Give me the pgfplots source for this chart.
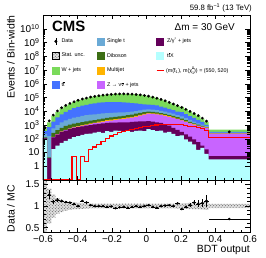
\documentclass[border=0pt]{standalone}
\usepackage{fontspec}
\setmainfont{Liberation Sans}
\usepackage{pgfplots}
\pgfplotsset{compat=1.18}
\usepackage{pgfplotstable}
\usepgfplotslibrary{fillbetween}
\usetikzlibrary{patterns}

\definecolor{cW}{RGB}{122,218,90}
\definecolor{cTT}{RGB}{68,114,255}
\definecolor{cST}{RGB}{106,170,214}
\definecolor{cVV}{RGB}{60,110,20}
\definecolor{cQCD}{RGB}{255,180,0}
\definecolor{cZnn}{RGB}{200,100,255}
\definecolor{cDY}{RGB}{100,0,90}
\definecolor{cTTX}{RGB}{180,255,255}

\newcommand{\tbar}{\rlap{\kern0.01em\rule[0.8em]{0.27em}{0.07em}}t}
\newcommand{\nubar}{\rlap{\kern0.04em\rule[0.62em]{0.42em}{0.07em}}ν}
\newcommand{\supsub}[2]{\raisebox{-0.32em}{\fontsize{3.7}{3.9}\selectfont\shortstack[l]{#1\\#2}}}

% cumulative stack tops (left bin edges), signal
\pgfplotstableread{
x t1 t2 t3 t4 t5 t6 t7 t8 sig
-0.600 100 112 112 112 126 224 355 562 0.11
-0.576 0.01 3.98 3.98 3.98 4.47 158 708 1585 0.11
-0.552 17.4 126 129 135 263 562 1778 4786 0.11
-0.528 31.6 200 204 214 417 1000 3548 9120 0.11
-0.504 50.1 316 324 339 631 1585 6026 15850 0.11
-0.480 70.8 398 417 437 851 2138 8913 24550 0.11
-0.456 100 525 550 575 1072 2754 12590 34670 0.11
-0.432 132 631 676 724 1259 3388 16600 46770 5.01
-0.408 158 708 776 832 1445 3981 20890 63100 0.11
-0.384 191 794 891 977 1622 4571 25120 69180 5.01
-0.360 224 891 1023 1122 1820 5129 29510 85110 2.29
-0.336 240 1000 1175 1318 2042 5623 33880 104700 15.8
-0.312 282 1122 1349 1514 2291 6026 38020 120200 25.1
-0.288 316 1202 1514 1738 2570 6457 41690 134900 39.8
-0.264 263 1318 1698 1950 2884 6918 43650 147900 63.1
-0.240 355 1413 1905 2239 3236 7244 45710 162200 100
-0.216 316 1479 2089 2455 3548 7586 46770 169800 158
-0.192 398 1514 2291 2692 3890 7943 46770 186200 209
-0.168 380 1549 2512 2951 4266 8128 45710 186200 282
-0.144 355 1549 2692 3162 4677 8318 44670 186200 355
-0.120 417 1585 3020 3548 5129 8710 42660 186200 427
-0.096 316 1660 3388 3981 5754 9333 39810 177800 501
-0.072 380 1738 3981 4677 6607 10230 37150 166000 575
-0.048 398 1820 4786 5495 7586 11480 33880 158500 661
-0.024 355 1862 5754 6457 8511 12880 31620 141300 741
0.000 501 1905 6607 7413 9333 13800 30900 123000 832
0.024 417 1778 6310 7079 8913 13180 29510 109600 912
0.048 355 1585 5888 6607 8128 12020 26300 93330 1000
0.072 398 1445 5370 5888 7413 10720 21880 72440 1072
0.096 282 1122 4677 5129 6457 9333 18620 57540 1122
0.120 316 891 3981 4365 5495 7943 15140 43650 1148
0.144 224 631 3311 3631 4571 6607 12300 33880 1148
0.168 158 447 2692 2951 3715 5248 9550 24550 1122
0.192 178 316 2138 2344 2884 4169 8511 20420 1047
0.216 89.1 204 1698 1862 2239 3162 6166 14130 933
0.240 63.1 141 1318 1445 1698 2399 4467 9550 832
0.264 39.8 89.1 1047 1148 1318 1778 3236 6457 741
0.288 15.8 56.2 851 912 1047 1318 2399 4571 631
0.312 22 31.6 724 776 851 1047 1660 2951 525
0.336 7.94 16.6 631 661 708 832 1023 1698 417
0.360 3.16 5.37 240 245 251 282 316 457 132
0.600 3.16 5.37 240 245 251 282 316 457 132
}\stack

\pgfplotstableread{
x y
-0.588 631
-0.564 1995
-0.540 5248
-0.516 10470
-0.492 17780
-0.468 26920
-0.444 37150
-0.420 48980
-0.396 63100
-0.372 77620
-0.348 91200
-0.324 107200
-0.300 120200
-0.276 134900
-0.252 147900
-0.228 158500
-0.204 169800
-0.180 177800
-0.156 182000
-0.132 182000
-0.108 177800
-0.084 173800
-0.060 166000
-0.036 154900
-0.012 141300
0.012 125900
0.036 107200
0.060 89130
0.084 72440
0.108 57540
0.132 44670
0.156 33880
0.180 25700
0.204 19050
0.228 13800
0.252 9772
0.276 6918
0.300 4786
0.324 3162
0.348 1905
0.480 316
}\datatab

\pgfplotstableread{
x r ex ey
-0.564 1.26 0.012 0.10
-0.540 1.10 0.012 0.05
-0.516 1.14 0.012 0.04
-0.492 1.12 0.012 0.03
-0.468 1.09 0.012 0.025
-0.444 1.08 0.012 0.02
-0.420 1.05 0.012 0.02
-0.396 1.00 0.012 0.015
-0.372 1.12 0.012 0.015
-0.348 1.08 0.012 0.012
-0.324 1.02 0.012 0.01
-0.300 1.00 0.012 0.01
-0.276 1.00 0.012 0.01
-0.252 1.00 0.012 0.01
-0.228 0.98 0.012 0.01
-0.204 0.99 0.012 0.01
-0.180 0.95 0.012 0.01
-0.156 0.97 0.012 0.01
-0.132 0.98 0.012 0.01
-0.108 0.96 0.012 0.01
-0.084 0.98 0.012 0.01
-0.060 1.00 0.012 0.01
-0.036 0.98 0.012 0.01
-0.012 1.00 0.012 0.01
0.012 1.02 0.012 0.01
0.036 0.98 0.012 0.01
0.060 0.96 0.012 0.01
0.084 1.00 0.012 0.01
0.108 1.01 0.012 0.01
0.132 1.02 0.012 0.012
0.156 1.00 0.012 0.015
0.180 1.06 0.012 0.02
0.204 0.93 0.012 0.03
0.228 0.98 0.012 0.03
0.252 1.02 0.012 0.04
0.276 1.08 0.012 0.06
0.300 1.05 0.012 0.08
0.324 1.07 0.012 0.10
0.348 1.12 0.012 0.14
0.480 0.70 0.120 0.02
}\ratiotab

\pgfplotstableread{
x up lo
-0.600 1.80 0.20
-0.576 1.40 0.60
-0.552 1.27 0.73
-0.528 1.18 0.82
-0.504 1.14 0.86
-0.480 1.11 0.89
-0.456 1.09 0.91
-0.432 1.08 0.92
-0.408 1.07 0.93
-0.384 1.065 0.935
-0.360 1.06 0.94
-0.336 1.055 0.945
0.144 1.055 0.945
0.168 1.06 0.94
0.192 1.06 0.94
0.216 1.065 0.935
0.240 1.07 0.93
0.264 1.075 0.925
0.288 1.08 0.92
0.312 1.085 0.915
0.336 1.09 0.91
0.360 1.05 0.95
0.600 1.05 0.95
}\bandtab

\pgfplotsset{
  cmsax/.style={
    scale only axis, width=207bp, xmin=-0.6, xmax=0.6,
    tick align=inside, major tick length=4.5bp, minor tick length=2.5bp,
    xtick={-0.6,-0.4,-0.2,0,0.2,0.4,0.6}, minor x tick num=3,
    tick style={black, line width=0.4bp},
    axis line style={line width=0.5bp},
    tick label style={font=\fontsize{10}{12}\selectfont},
    label style={font=\fontsize{10.5}{12}\selectfont},
    axis on top,
  },
  areaimg/.style={legend image code/.code={\fill[#1] (0bp,-3.5bp) rectangle (7bp,3.5bp);}},
}

\begin{document}
\begin{tikzpicture}
\begin{axis}[cmsax, name=main, height=165bp,
  ymode=log, ymin=0.1, ymax=1e11, log origin=infty,
  ytickten={0,...,10},
  yticklabels={1,10,10\textsuperscript{2},10\textsuperscript{3},10\textsuperscript{4},10\textsuperscript{5},10\textsuperscript{6},10\textsuperscript{7},10\textsuperscript{8},10\textsuperscript{9},10\textsuperscript{10}},
  xticklabels={},
  ylabel={Events / Bin-width},
  ylabel style={at={(rel axis cs:-0.1353,1)}, anchor=south east, inner sep=0pt},
  legend columns=3, legend cell align=left,
  legend style={draw=none, fill=none, inner sep=0pt, at={(0.0435,0.864)}, anchor=north west,
    font=\fontsize{5.4}{6.5}\selectfont, row sep=7bp, column sep=0pt, nodes={inner sep=0pt}},
]
\addplot[const plot mark left, fill=cW, draw=none, forget plot] table[x=x,y=t8]{\stack} \closedcycle;
\addplot[const plot mark left, fill=cTT, draw=none, forget plot] table[x=x,y=t7]{\stack} \closedcycle;
\addplot[const plot mark left, fill=cST, draw=none, forget plot] table[x=x,y=t6]{\stack} \closedcycle;
\addplot[const plot mark left, fill=cVV, draw=none, forget plot] table[x=x,y=t5]{\stack} \closedcycle;
\addplot[const plot mark left, fill=cQCD, draw=none, forget plot] table[x=x,y=t4]{\stack} \closedcycle;
\addplot[const plot mark left, fill=cZnn, draw=none, forget plot] table[x=x,y=t3]{\stack} \closedcycle;
\addplot[const plot mark left, fill=cDY, draw=none, forget plot] table[x=x,y=t2]{\stack} \closedcycle;
\addplot[const plot mark left, fill=cTTX, draw=none, forget plot] table[x=x,y=t1]{\stack} \closedcycle;
\addplot[const plot mark left, red, line width=1.1bp, forget plot] table[x=x,y=sig]{\stack};
\addplot[only marks, mark=*, mark size=1.2bp, black, forget plot] table[x=x,y=y]{\datatab};

\addlegendimage{legend image code/.code={\draw[black,line width=0.5bp] (3.5bp,-3.5bp)--(3.5bp,3.5bp); \fill[black] (3.5bp,0bp) circle (1.3bp);}}
\addlegendentry{\makebox[37bp][l]{\hspace{2bp}Data}}
\addlegendimage{areaimg=cST}
\addlegendentry{\makebox[52bp][l]{\hspace{3bp}Single t}}
\addlegendimage{areaimg=cDY}
\addlegendentry{\hspace{3bp}Z/γ\textsuperscript{*} + jets}
\addlegendimage{legend image code/.code={\fill[gray!25] (0bp,-3.5bp) rectangle (7bp,3.5bp); \fill[pattern=crosshatch dots, pattern color=black!70] (0bp,-3.5bp) rectangle (7bp,3.5bp);}}
\addlegendentry{\makebox[37bp][l]{\hspace{2bp}Stat. unc.}}
\addlegendimage{areaimg=cVV}
\addlegendentry{\makebox[52bp][l]{\hspace{3bp}Diboson}}
\addlegendimage{areaimg=cTTX}
\addlegendentry{\hspace{3bp}t\tbar X}
\addlegendimage{areaimg=cW}
\addlegendentry{\makebox[37bp][l]{\hspace{2bp}W + jets}}
\addlegendimage{areaimg=cQCD}
\addlegendentry{\makebox[52bp][l]{\hspace{3bp}Multijet}}
\addlegendimage{legend image code/.code={\draw[red,line width=1.1bp] (0bp,0bp)--(7bp,0bp);}}
\addlegendentry{\hspace{2bp}(m(t̃\textsubscript{1}), m(χ̃\supsub{0}{1})) = (550, 520)}
\addlegendimage{areaimg=cTT}
\addlegendentry{\makebox[37bp][l]{\hspace{2bp}t\tbar}}
\addlegendimage{areaimg=cZnn}
\addlegendentry{\makebox[52bp][l]{\hspace{3bp}Z → ν\nubar\ + jets}}
\end{axis}

\begin{axis}[cmsax, name=ratio, at={(main.south west)}, anchor=north west, height=52bp,
  ymin=0.4, ymax=1.6, ytick={0.5,1,1.5}, yticklabels={0.5,1,1.5}, minor y tick num=4,
  xticklabels={−0.6,−0.4,−0.2,0,0.2,0.4,0.6},
  xlabel={BDT output},
  xlabel style={at={(rel axis cs:1,0)}, anchor=north east, yshift=-13bp, inner sep=0pt},
  ylabel={Data / MC},
  ylabel style={at={(rel axis cs:-0.1353,0.45)}, anchor=south, inner sep=0pt},
]
\addplot[const plot mark left, draw=none, name path=up, forget plot] table[x=x,y=up]{\bandtab};
\addplot[const plot mark left, draw=none, name path=lo, forget plot] table[x=x,y=lo]{\bandtab};
\addplot[fill=gray!25, draw=none, forget plot] fill between[of=up and lo];
\addplot[pattern=crosshatch dots, pattern color=black!70, draw=none, forget plot] fill between[of=up and lo];
\addplot[only marks, mark=*, mark size=1.0bp, black, line width=0.5bp,
  error bars/.cd, x dir=both, x explicit, y dir=both, y explicit, error mark=none]
  table[x=x, y=r, x error=ex, y error=ey]{\ratiotab};
\end{axis}

\node[anchor=base west, inner sep=0pt, font=\fontsize{15}{15}\selectfont\bfseries] at ([shift={(9bp,-17bp)}]main.north west) {CMS};
\node[anchor=base east, inner sep=0pt, font=\fontsize{10}{12}\selectfont] at ([shift={(-15bp,-16bp)}]main.north east) {Δm = 30 GeV};
\node[anchor=base east, inner sep=0pt, font=\fontsize{7.8}{9}\selectfont] at ([shift={(2bp,4.5bp)}]main.north east) {59.8 fb\textsuperscript{−1} (13 TeV)};

\pgfresetboundingbox
\path[use as bounding box] ([shift={(-43bp,15bp)}]main.north west) rectangle ([shift={(223bp,-243bp)}]main.north west);
\end{tikzpicture}
\end{document}
